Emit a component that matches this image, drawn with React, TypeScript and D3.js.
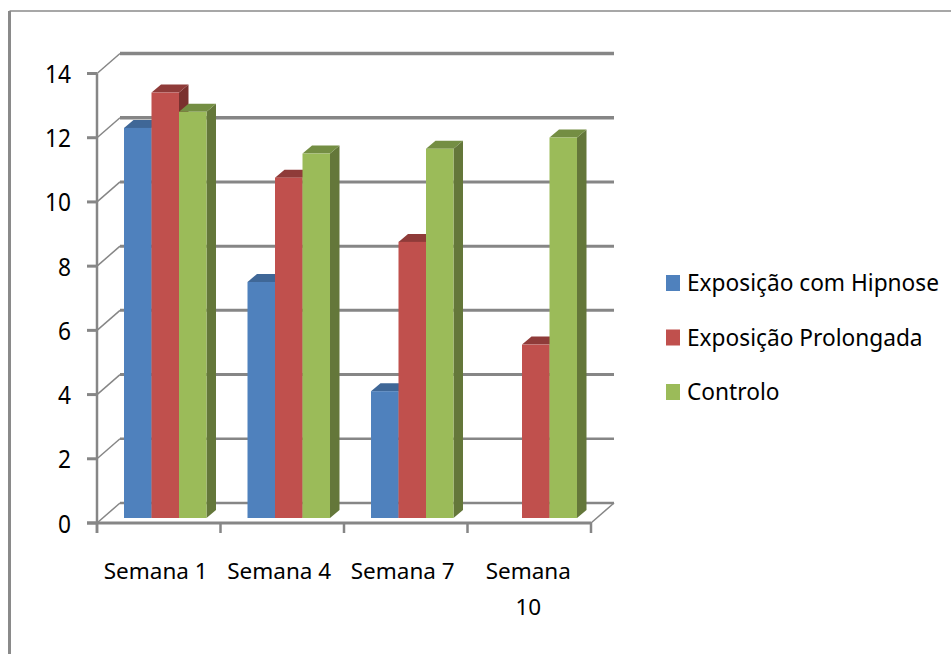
import React from "react";
import * as d3 from "d3";

const categories = ["Semana 1", "Semana 4", "Semana 7", "Semana 10"];
const seriesNames = ["Exposição com Hipnose", "Exposição Prolongada", "Controlo"];
const hipnose: (number | null)[] = [12.15, 7.35, 3.95, null];
const prolongada: (number | null)[] = [13.25, 10.6, 8.6, 5.4];
const controlo: (number | null)[] = [12.65, 11.35, 11.5, 11.85];
const yTicks = [0, 2, 4, 6, 8, 10, 12, 14];

const frontColors = ["#4F81BD", "#C0504D", "#9BBB59"];
const topColors = ["#3F6797", "#8F3B39", "#748E43"];
const sideColors = ["#365A85", "#7A302E", "#64773A"];
const GRID = "#868686";
const FONT = "'Noto Sans', 'Open Sans', sans-serif";

const WIDTH = 951;
const HEIGHT = 654;
// Offset of the back wall relative to the front plane of the 3D box.
const WALL_DX = 23;
const WALL_DY = 20;
// Extrusion of each bar.
const BAR_DX = 9.5;
const BAR_DY = 8;
// Bars stand slightly behind the front edge of the floor.
const BAR_BASE_SHIFT = 5;

export default function App() {
  const series = [hipnose, prolongada, controlo];
  const y = d3.scaleLinear().domain([0, 14]).range([523, 73.5]);
  const x = d3.scaleBand<string>().domain(categories).range([97, 591]);
  const inner = d3
    .scaleBand<number>()
    .domain([0, 1, 2])
    .range([27, 27 + 82.5]);

  const xEdges = categories.map((c) => x(c)!).concat(591);
  const poly = d3.line();

  return (
    <svg
      width={WIDTH}
      height={HEIGHT}
      style={{ position: "absolute", left: 0, top: 0, background: "#fff" }}
      fontFamily={FONT}
    >
      {/* Outer frame: top and left edges only */}
      <line x1={9.5} y1={11} x2={951} y2={11} stroke="#8a8a8a" strokeWidth={1.5} />
      <line x1={9.5} y1={11} x2={9.5} y2={654} stroke="#8a8a8a" strokeWidth={3} />

      {/* Back wall gridlines and their slanted side-wall segments */}
      {yTicks.map((t) => (
        <g key={t} fill="none" stroke={GRID}>
          <line
            x1={97 + WALL_DX}
            x2={591 + WALL_DX}
            y1={y(t) - WALL_DY}
            y2={y(t) - WALL_DY}
            strokeWidth={t >= 12 ? 3.5 : t >= 4 ? 3 : 2.5}
          />
          <line
            x1={97}
            y1={y(t)}
            x2={97 + WALL_DX}
            y2={y(t) - WALL_DY}
            strokeWidth={1.5}
          />
          <line x1={87} x2={97} y1={y(t)} y2={y(t)} strokeWidth={3} />
        </g>
      ))}

      {/* Floor edges and axes */}
      <line x1={591} y1={523} x2={591 + WALL_DX} y2={523 - WALL_DY} stroke={GRID} strokeWidth={1.5} />
      <line x1={97} x2={97} y1={73.5} y2={533} stroke={GRID} strokeWidth={2.5} />
      <line x1={87} x2={591} y1={523} y2={523} stroke={GRID} strokeWidth={3} />
      {xEdges.map((e, i) => (
        <line key={i} x1={e} x2={e} y1={523} y2={533} stroke={GRID} strokeWidth={2.5} />
      ))}

      {/* Extruded bars, drawn left to right so each one covers its neighbour's side */}
      {categories.map((c, ci) => (
        <g key={c}>
          {series.map((values, si) => {
            const v = values[ci];
            if (v === null) return null;
            const x0 = x(c)! + inner(si)!;
            const x1 = x0 + inner.bandwidth();
            const base = y(0) - BAR_BASE_SHIFT;
            const top = y(v) - BAR_BASE_SHIFT;
            const side = poly([
              [x1, top],
              [x1 + BAR_DX, top - BAR_DY],
              [x1 + BAR_DX, base - BAR_DY],
              [x1, base],
            ])!;
            const cap = poly([
              [x0, top],
              [x0 + BAR_DX, top - BAR_DY],
              [x1 + BAR_DX, top - BAR_DY],
              [x1, top],
            ])!;
            return (
              <g key={si}>
                <path d={side + "Z"} fill={sideColors[si]} />
                <path d={cap + "Z"} fill={topColors[si]} />
                <rect x={x0} y={top} width={x1 - x0} height={base - top} fill={frontColors[si]} />
              </g>
            );
          })}
        </g>
      ))}

      {/* Value axis labels, condensed to the width of the axis gutter */}
      {yTicks.map((t) => (
        <text
          key={t}
          x={71}
          y={y(t) + 9.5}
          textAnchor="end"
          fontSize={26}
          fill="#000"
          textLength={String(t).length * 13}
          lengthAdjust="spacingAndGlyphs"
        >
          {t}
        </text>
      ))}

      {/* Category labels; the last one wraps onto two lines */}
      {categories.map((c) => {
        const cx = x(c)! + x.bandwidth() / 2;
        const words = c === "Semana 10" ? ["Semana", "10"] : [c];
        return (
          <text key={c} textAnchor="middle" fontSize={22.5} fill="#000">
            {words.map((w, i) => (
              <tspan key={w} x={c === "Semana 10" ? cx - 1 : cx - 3} y={578.5 + i * 36}>
                {w}
              </tspan>
            ))}
          </text>
        );
      })}

      {/* Legend */}
      {seriesNames.map((name, i) => {
        const cy = 283 + i * 54.5;
        return (
          <g key={name}>
            <rect x={666} y={cy - 8} width={14} height={16} fill={frontColors[i]} />
            <text x={687} y={cy + 8} fontSize={22.7} fill="#000">
              {name}
            </text>
          </g>
        );
      })}
    </svg>
  );
}
